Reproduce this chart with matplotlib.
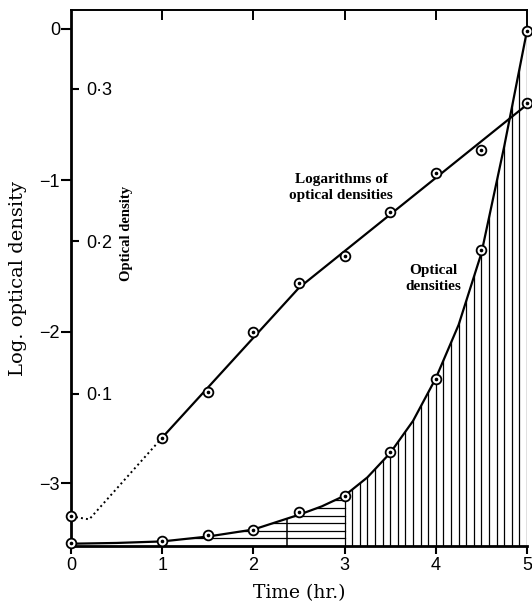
import numpy as np
import matplotlib
matplotlib.use("Agg")
import matplotlib.pyplot as plt
from matplotlib.patches import Polygon

# data
time_pts = [0, 1, 1.5, 2, 2.5, 3, 3.5, 4, 4.5, 5]
log_od = [-3.22, -2.70, -2.40, -2.00, -1.68, -1.50, -1.21, -0.95, -0.80, -0.49]
od = [0.002, 0.0033, 0.0072, 0.0105, 0.0223, 0.0330, 0.0617, 0.1095, 0.194, 0.338]

# fitted log line (dotted lag part + two straight pieces)
lag_t = [0, 0.2, 1]
lag_log = [-3.22, -3.24, -2.70]
fit_t = [1, 2.5, 5]
fit_log = [-2.70, -1.71, -0.50]

# smooth curve through optical densities
curve_t = [0, 0.5, 1, 1.5, 2, 2.5, 2.75, 3, 3.25, 3.5, 3.75, 4, 4.25, 4.5, 4.75, 5]
curve_od = [0.0015, 0.002, 0.003, 0.0062, 0.0108, 0.0205, 0.026, 0.033, 0.045,
            0.061, 0.082, 0.110, 0.145, 0.192, 0.262, 0.338]
split_t = 2.37

log_ticks = [0, -1, -2, -3]
log_labels = ["0", "\u22121", "\u22122", "\u22123"]
od_ticks = [0.1, 0.2, 0.3]
od_labels = ["0\u00b71", "0\u00b72", "0\u00b73"]
x_ticks = [0, 1, 2, 3, 4, 5]

serif = "DejaVu Serif"
tickfont = {"family": ["Liberation Sans Narrow", "Liberation Sans"], "size": 13}

fig = plt.figure(figsize=(5.32, 6.04), dpi=100)
ax = fig.add_axes([71/532, 1 - 546/604, 456/532, 536/604])
ax.set_xlim(0, 5)
ax.set_ylim(-3.416, 0.125)
ax2 = ax.twinx()
ax2.set_ylim(0, 0.3515)

lw = 1.6
# log curve
ax.plot(lag_t, lag_log, ls=(0, (1, 1.6)), color="k", lw=1.4)
ax.plot(fit_t, fit_log, color="k", lw=lw)
ax.plot(time_pts, log_od, ls="none", marker="o", ms=7, mfc="white", mec="k", mew=1.3, clip_on=False, zorder=5)
ax.plot(time_pts, log_od, ls="none", marker="o", ms=1.6, color="k", clip_on=False, zorder=6)

# optical density curve + graphical integration hatching
ax2.plot(curve_t, curve_od, color="k", lw=lw, zorder=4)
poly = Polygon(list(zip(curve_t, curve_od)) + [(5, 0), (0, 0)], closed=True,
               fc="none", ec="none", transform=ax2.transData)
ax2.add_patch(poly)
for lev in np.arange(0.005, 0.04, 0.005):
    ln, = ax2.plot([0, 3], [lev, lev], color="k", lw=0.9)
    ln.set_clip_path(poly)
for xv in np.arange(3, 5.001, 1/12):
    ln, = ax2.plot([xv, xv], [0, 0.4], color="k", lw=0.9)
    ln.set_clip_path(poly)
ln, = ax2.plot([split_t, split_t], [0, 0.4], color="k", lw=1.1)
ln.set_clip_path(poly)
ax2.plot(time_pts, od, ls="none", marker="o", ms=7, mfc="white", mec="k", mew=1.3, clip_on=False, zorder=5)
ax2.plot(time_pts, od, ls="none", marker="o", ms=1.6, color="k", clip_on=False, zorder=6)

# spines
ax.spines["left"].set_linewidth(2)
ax.spines["bottom"].set_linewidth(2)
ax.spines["top"].set_linewidth(1.4)
ax.spines["right"].set_linewidth(1.4)
ax.spines["right"].set_bounds(0.0, 0.125)
for s in ("left", "bottom", "top", "right"):
    ax2.spines[s].set_visible(False)

# ticks
ax.set_xticks(x_ticks)
ax.set_xticklabels([str(v) for v in x_ticks], fontdict=tickfont)
ax.tick_params(axis="x", direction="out", length=6, width=1.5, pad=2, top=False)
ax.set_yticks(log_ticks)
ax.set_yticklabels(log_labels, fontdict=tickfont)
ax.tick_params(axis="y", direction="out", length=7, width=1.5, pad=1)
# top ticks only at inner hours, pointing in
sec = ax.secondary_xaxis("top")
sec.set_xticks([1, 2, 3, 4])
sec.set_xticklabels([])
sec.tick_params(direction="in", length=7, width=1.4)
sec.spines["top"].set_visible(False)

ax2.yaxis.tick_left()
ax2.set_yticks(od_ticks)
ax2.set_yticklabels(od_labels, fontdict=tickfont)
ax2.tick_params(axis="y", direction="in", length=6, width=1.5, pad=-11)
for t in ax2.get_yticklabels():
    t.set_horizontalalignment("left")

ax.set_xlabel("Time (hr.)", fontsize=13.5, family=serif, labelpad=7)
ax.set_ylabel("Log. optical density", fontsize=14, family=serif, labelpad=9)

ax.text(0.61, -1.35, "Optical density", rotation=90, ha="center", va="center",
        fontsize=10.5, family="Liberation Serif", fontweight="bold")
ax.text(2.96, -1.05, "Logarithms of\noptical densities", ha="center", va="center",
        fontsize=11, family="Liberation Serif", fontweight="bold", linespacing=1.3)
ax.text(3.97, -1.65, "Optical\ndensities", ha="center", va="center",
        fontsize=11, family="Liberation Serif", fontweight="bold", linespacing=1.3)

fig.savefig("out.png", dpi=100)
